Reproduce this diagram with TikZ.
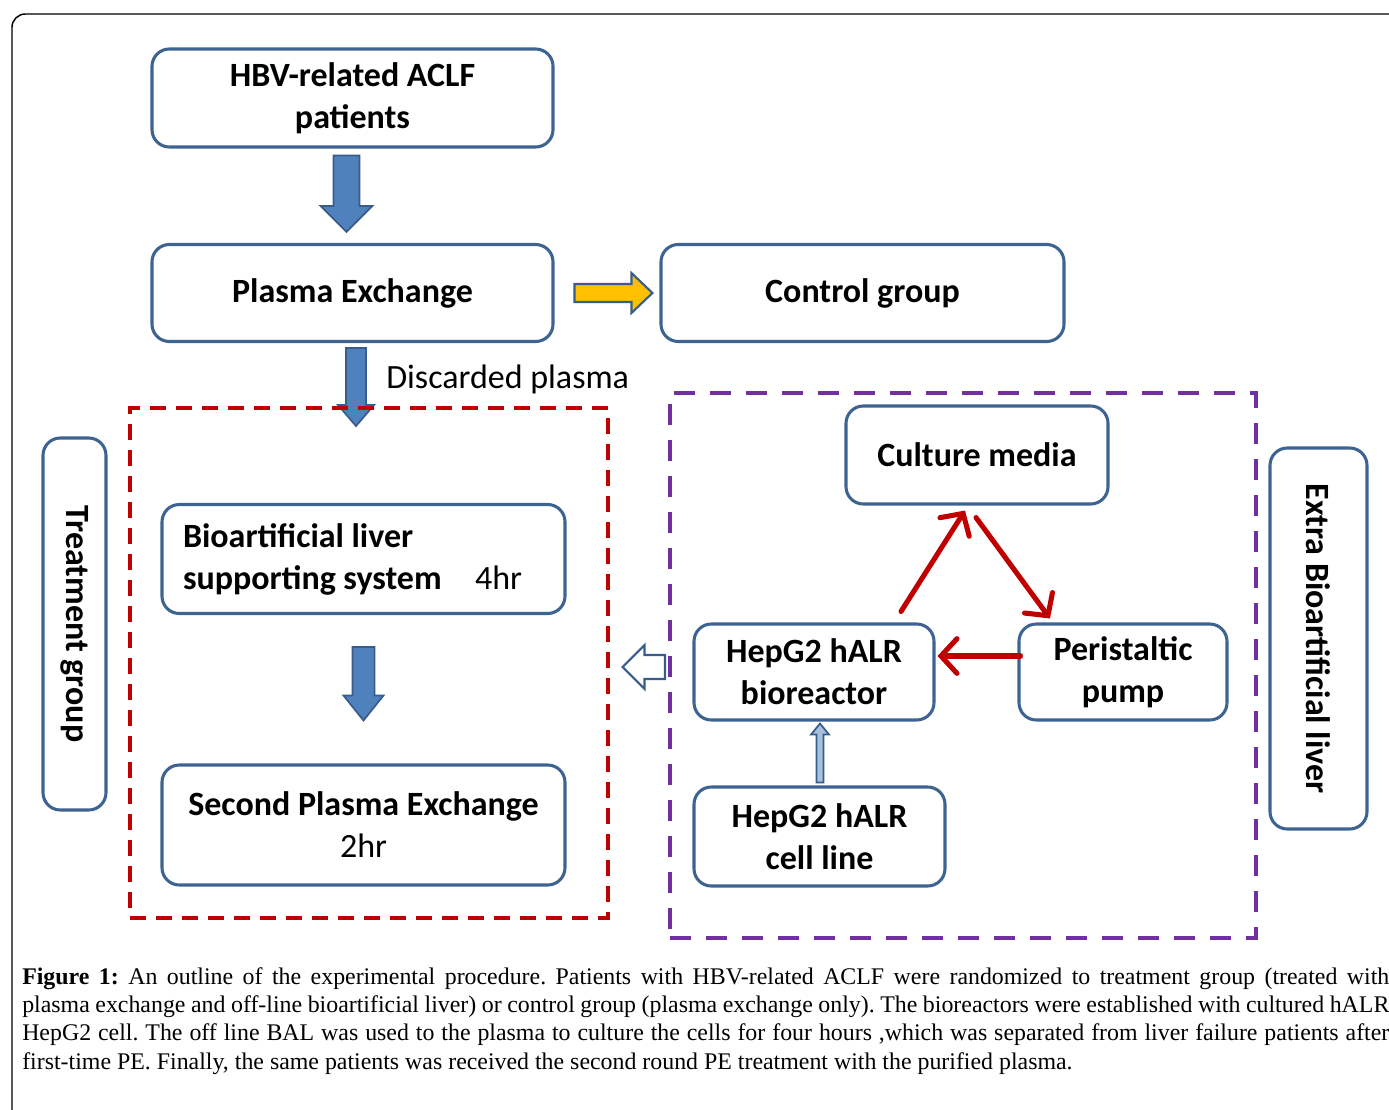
\documentclass[tikz,border=0pt]{standalone}
\usepackage{fontspec}
\setmainfont{Carlito}
\newfontfamily\capfont{Liberation Serif}
\usetikzlibrary{arrows.meta,calc}
\definecolor{boxblue}{HTML}{3D6491}
\definecolor{arrfill}{HTML}{4F81BD}
\definecolor{arrline}{HTML}{385D8A}
\definecolor{myyellow}{HTML}{FFC000}
\definecolor{myred}{HTML}{C00000}
\definecolor{mypurple}{HTML}{7030A0}
\definecolor{lightarr}{HTML}{A7C0DE}
\newcommand\pxu{0.75pt}
% #1 style, #2 from, #3 tip, #4 shaft half (px), #5 head half (px), #6 head length (px)
\newcommand\blockarrow[6]{%
  \coordinate (bahead) at ($(#3)!#6*0.75pt!(#2)$);
  \draw[#1] ($(#2)!#4*0.75pt!90:(#3)$) -- ($(bahead)!#4*0.75pt!90:(#3)$)
    -- ($(bahead)!#5*0.75pt!90:(#3)$) -- (#3)
    -- ($(bahead)!#5*0.75pt!-90:(#3)$) -- ($(bahead)!#4*0.75pt!-90:(#3)$)
    -- ($(#2)!#4*0.75pt!-90:(#3)$) -- cycle;}
\newcommand\capline[1]{\hbox to 1025.25pt{#1}}
\begin{document}
\begin{tikzpicture}[x=0.75pt,y=-0.75pt,
  box/.style={draw=boxblue, line width=2.3pt, rounded corners=13pt, fill=white,
    align=center, inner sep=0pt, font=\fontsize{25.5}{31.5}\selectfont\bfseries},
  sz/.style 2 args={minimum width=#1*0.75pt, minimum height=#2*0.75pt},
  blockarr/.style={fill=arrfill, draw=arrline, line width=1.3pt, line join=miter},
  yelarr/.style={fill=myyellow, draw=arrline, line width=1.6pt, line join=miter},
  hollowarr/.style={fill=white, draw=arrline, line width=1.6pt, line join=miter},
  thinarr/.style={fill=lightarr, draw=arrline, line width=1.3pt, line join=miter},
  redarr/.style={draw=myred, line width=3.8pt, line cap=round,
    -{Straight Barb[length=12pt,width=26pt,line cap=round]}},
  reddash/.style={draw=myred, line width=2.3pt, dash pattern=on 12pt off 7.5pt, inner sep=0pt},
  purpdash/.style={draw=mypurple, line width=3pt, dash pattern=on 16pt off 11pt, inner sep=0pt}]
\fill[white] (0,0) rectangle (1389,1110);
\useasboundingbox (0,0) rectangle (1389,1110);
\draw[line width=1.1pt, rounded corners=10pt] (12,1140) -- (12,14) -- (1420,14);

% main boxes
\node[box, sz={401}{98}] (hbv) at (352.5,98) {HBV-related ACLF\\patients};
\node[box, sz={401}{97}] (pe) at (352.5,293) {Plasma Exchange};
\node[box, sz={403}{97}] (ctrl) at (862.5,293) {Control group};
\node[box, sz={262}{98}] (cm) at (977,455) {Culture media};
\node[box, sz={403}{109}, align=left, text width=361*0.75pt] (bal) at (363.5,559)
  {\spaceskip=0.22em\relax Bioartificial liver\\supporting system\hspace{25pt}\mdseries 4hr};
\node[box, sz={403}{120}] (spe) at (363.5,825) {Second Plasma Exchange\\\mdseries 2hr};
\node[box, sz={240}{96}] (bio) at (814,672) {HepG2 hALR\\bioreactor};
\node[box, sz={208}{96}] (pump) at (1123,672) {Peristaltic\\pump};
\node[box, sz={251}{99}] (cell) at (819.5,836.5) {HepG2 hALR\\cell line};
\node[box, sz={372}{63}, rotate=-90] (tg) at (74.5,624) {Treatment group};
\node[box, sz={381}{97}, rotate=-90] (ebl) at (1318.5,638.5) {Extra Bioartificial liver};

\node[anchor=west, inner sep=0pt, font=\fontsize{25.5}{30}\selectfont] (disc) at (386,379) {Discarded plasma};

% block arrows
\coordinate (a1s) at ($(hbv.south)+(-6,7)$);
\coordinate (a1t) at ($(pe.north)+(-6,-11)$);
\blockarrow{blockarr}{a1s}{a1t}{13}{26}{26}
\coordinate (a2s) at ($(pe.south)+(3.5,5)$);
\coordinate (a2t) at ($(pe.south)+(3.5,83)$);
\blockarrow{blockarr}{a2s}{a2t}{10}{18}{21}
\coordinate (a3s) at ($(bal.south)+(0,32)$);
\coordinate (a3t) at ($(spe.north)+(0,-43)$);
\blockarrow{blockarr}{a3s}{a3t}{11}{20}{25}
\coordinate (yas) at ($(pe.east)+(20,0)$);
\coordinate (yat) at ($(ctrl.west)+(-7,0)$);
\blockarrow{yelarr}{yas}{yat}{9}{20}{21}
\coordinate (tas) at ($(cell.north)+(0.5,-3)$);
\coordinate (tat) at ($(bio.south)+(6,2)$);
\blockarrow{thinarr}{tas}{tat}{3.5}{9}{11}

% dashed groups
\node[reddash, sz={478}{510}] (tbox) at (369,663) {};
\node[purpdash, sz={586}{545}] (ebox) at (963,665.5) {};
\coordinate (has) at ($(ebox.west)+(-3,1.5)$);
\coordinate (hat) at ($(tbox.east)+(13,4)$);
\blockarrow{hollowarr}{has}{hat}{12}{22}{22}

% red cycle arrows
\draw[redarr] ($(bio.north)+(87,-11)$) -- ($(cm.south)+(-12,5)$);
\draw[redarr] ($(cm.south)+(-1,12)$) -- ($(pump.north)+(-73,-4)$);
\draw[redarr] ($(pump.west)+(3,-16)$) -- ($(bio.east)+(2,-16)$);

% caption
\node[anchor=north west, inner sep=0pt, text width=1367*0.75pt, align=left,
  font=\capfont\fontsize{17.9}{21.25}\selectfont] (cap) at (22,967)
{\parindent=0pt\frenchspacing\spaceskip=0.25em plus 0.6em minus 0.05em\relax
\capline{\textbf{Figure 1:} An outline of the experimental procedure. Patients with HBV-related ACLF were randomized to treatment group (treated with}
\capline{plasma exchange and off-line bioartificial liver) or control group (plasma exchange only). The bioreactors were established with cultured hALR}
\capline{HepG2 cell. The off line BAL was used to the plasma to culture the cells for four hours ,which was separated from liver failure patients after}
\capline{first-time PE. Finally, the same patients was received the second round PE treatment with the purified plasma.\hfil}};
\end{tikzpicture}
\end{document}
